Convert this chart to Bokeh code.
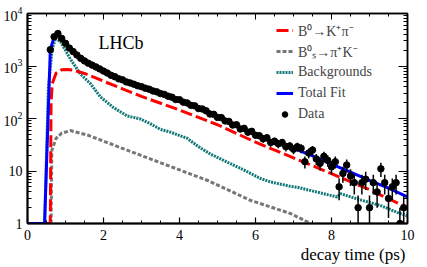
import numpy as np
from bokeh.plotting import figure
from bokeh.models import (LinearAxis, LogAxis, LogTicker, SingleIntervalTicker, LogTickFormatter,
                          CustomJSTickFormatter, Label, Legend, Range1d, Title)
from bokeh.embed import file_html
from bokeh.resources import INLINE

# ---- data ----
data_t = [0.6, 0.7, 0.8, 0.9, 1.0, 1.1, 1.2, 1.3, 1.4, 1.5, 1.6, 1.7, 1.8, 1.9,
          2.0, 2.1, 2.2, 2.3, 2.4, 2.5, 2.6, 2.7, 2.8, 2.9, 3.0, 3.1, 3.2, 3.3, 3.4,
          3.5, 3.6, 3.7, 3.8, 3.9, 4.0, 4.1, 4.2, 4.3, 4.4, 4.5, 4.6, 4.7, 4.8, 4.9,
          5.0, 5.1, 5.2, 5.3, 5.4, 5.5, 5.6, 5.7, 5.8, 5.9, 6.0, 6.1, 6.2, 6.3, 6.4,
          6.5, 6.6, 6.7, 6.8, 6.9, 7.0, 7.1, 7.2, 7.3, 7.4, 7.5, 7.6, 7.7, 7.8, 7.9,
          8.0, 8.1, 8.2, 8.3, 8.4, 8.5, 8.6, 8.7, 8.8, 8.9, 9.0, 9.1, 9.2, 9.3, 9.4,
          9.5, 9.6, 9.7, 9.8, 9.9]
data_n = [2050, 3600, 4150, 3350, 2700, 2200, 1880, 1620, 1400, 1250, 1130, 1040, 960, 880,
          800, 735, 665, 625, 570, 545, 498, 476, 450, 420, 404, 378, 362, 335, 322,
          298, 288, 266, 255, 230, 228, 205, 198, 178, 174, 155, 152, 140, 122, 120,
          105, 104, 90, 88, 75, 76, 63, 65, 55, 57, 48, 47, 41, 43, 35,
          37, 33, 35, 29, 30, 26, 29, 27, 15, 22, 25, 17, 14, 19, 16,
          12, 15, 5, 9, 13, 8, 6, 2, 6, 7, 2, 6, 4, 11, 6,
          3, 5, 6, 1, 2]

total_t = [0, 0.45, 0.6, 0.7, 0.8, 0.9, 1.0, 1.2, 1.4, 1.6, 1.8, 2.0, 2.2, 2.5, 3.0, 3.5,
           4.0, 4.5, 5.0, 5.5, 6.0, 6.5, 7.0, 7.5, 8.0, 8.5, 9.0, 9.5, 10.0]
total_n = [1, 1, 2040, 3550, 4070, 3310, 2700, 1880, 1400, 1120, 955, 794, 661, 537, 398, 302,
           224, 158, 110, 72, 50, 35.5, 27, 19.5, 13.5, 9.5, 6.6, 4.7, 3.2]

sig_t = [0.5, 0.6, 0.62, 0.65, 0.75, 0.9, 1.05, 1.2, 1.5, 2.0, 2.5, 3.0, 4.0, 5.0,
         6.0, 7.0, 8.0, 9.0, 10.0]
sig_n = [1, 1, 200, 457, 724, 851, 861, 832, 724, 513, 367, 263, 145, 76,
         35.5, 17.8, 8.9, 4.4, 2.0]

bs_t = [0.62, 0.64, 0.75, 0.9, 1.13, 1.6, 2.0, 2.97, 4.0, 4.74, 5.87, 6.92, 7.45]
bs_n = [1, 24.5, 41.7, 52.5, 58.9, 47.9, 37, 20, 10.5, 6.6, 2.75, 1.55, 1.0]

bkg_t = [0.45, 0.55, 0.65, 0.74, 0.87, 1.13, 1.39, 1.66, 1.92, 2.26, 2.62, 2.97, 3.24,
         3.5, 3.76, 4.2, 4.55, 4.82, 5.34, 5.69, 6.13, 6.39, 6.92, 7.1, 7.6, 8.15, 8.24,
         8.7, 9.29, 9.8, 10.0]
bkg_n = [1, 398, 2100, 3400, 2900, 1350, 708, 457, 257, 162, 112, 98, 79,
         62, 55, 42, 27.5, 20.9, 13.8, 10.5, 7.2, 6.2, 5.1, 4.9, 4.0, 3.2, 3.7,
         2.9, 2.2, 1.55, 1.4]

x_ticks_interval = 2
font = "Liberation Serif"

p = figure(width=427, height=267, output_backend="svg", toolbar_location=None,
           x_range=Range1d(0, 10), y_range=Range1d(1, 1e4), y_axis_type="log",
           min_border_left=27, min_border_right=20, min_border_top=13, min_border_bottom=44,
           background_fill_color="white", border_fill_color="white")
p.xgrid.visible = False
p.ygrid.visible = False
p.outline_line_color = "black"
p.outline_line_width = 1.5

# bottom axis
xa = p.xaxis[0]
xa.ticker = SingleIntervalTicker(interval=x_ticks_interval, num_minor_ticks=4)
xa.major_tick_in = 6
xa.major_tick_out = 0
xa.minor_tick_in = 3
xa.minor_tick_out = 0
xa.axis_line_width = 2
xa.major_tick_line_width = 1.2
xa.major_label_text_font = font
xa.major_label_text_font_size = "14px"
xa.major_label_standoff = 6
xa.major_label_text_color = "black"

# left axis
ya = p.yaxis[0]
ya.ticker = LogTicker(num_minor_ticks=10)
ya.formatter = LogTickFormatter(min_exponent=2)
ya.major_tick_in = 9
ya.major_tick_out = 0
ya.minor_tick_in = 4
ya.minor_tick_out = 0
ya.axis_line_width = 2
ya.major_tick_line_width = 1.2
ya.major_label_text_font = font
ya.major_label_text_font_size = "14px"
ya.major_label_standoff = 5
ya.major_label_text_color = "black"

empty = CustomJSTickFormatter(code="return ''")
top = LinearAxis(ticker=SingleIntervalTicker(interval=x_ticks_interval, num_minor_ticks=4),
                 formatter=empty, major_tick_in=6, major_tick_out=0, minor_tick_in=3,
                 minor_tick_out=0, major_label_standoff=0, major_label_text_font_size="1px",
                 axis_line_width=1.5)
p.add_layout(top, "above")
right = LogAxis(ticker=LogTicker(num_minor_ticks=10), formatter=CustomJSTickFormatter(code="return ''"),
                major_tick_in=9, major_tick_out=0, minor_tick_in=4, minor_tick_out=0,
                major_label_standoff=0, major_label_text_font_size="1px", axis_line_width=1.5)
p.add_layout(right, "right")

teal = p.line(bkg_t, bkg_n, line_color="#127878", line_width=3, line_dash="2 1")
gray = p.line(bs_t, bs_n, line_color="#777777", line_width=3, line_dash="4 2")
red = p.line(sig_t, sig_n, line_color="#ff0000", line_width=3, line_dash="12 4")
blue = p.line(total_t, total_n, line_color="#0000ff", line_width=3)

dn = np.array(data_n, dtype=float)
err = np.sqrt(dn)
lo = np.maximum(dn - err, 0.5)
hi = dn + err
p.segment(data_t, lo, data_t, hi, line_color="black", line_width=1.5)
dots = p.scatter(data_t, data_n, size=6.5, color="black")

legend = Legend(items=[("B⁰→K⁺π⁻", [red]), ("B⁰ₛ→π⁺K⁻", [gray]),
                       ("Backgrounds", [teal]), ("Total Fit", [blue]), ("Data", [dots])],
                location=(249, 99), orientation="vertical",
                label_text_font=font, label_text_font_size="14px",
                glyph_width=17, glyph_height=14, label_standoff=5, label_height=20,
                spacing=1, padding=0, margin=0, border_line_color=None,
                background_fill_alpha=0)
p.add_layout(legend, "center")

p.add_layout(Label(x=1.87, y=10 ** 3.43, text="LHCb", text_font=font,
                   text_font_size="18px", text_baseline="alphabetic", text_color="black"))
p.add_layout(Title(text="decay time (ps)", align="right", text_font=font,
                   text_font_size="17px", text_font_style="normal", text_color="black",
                   standoff=0, offset=2), "below")

open("out.html", "w").write(file_html(p, INLINE))
